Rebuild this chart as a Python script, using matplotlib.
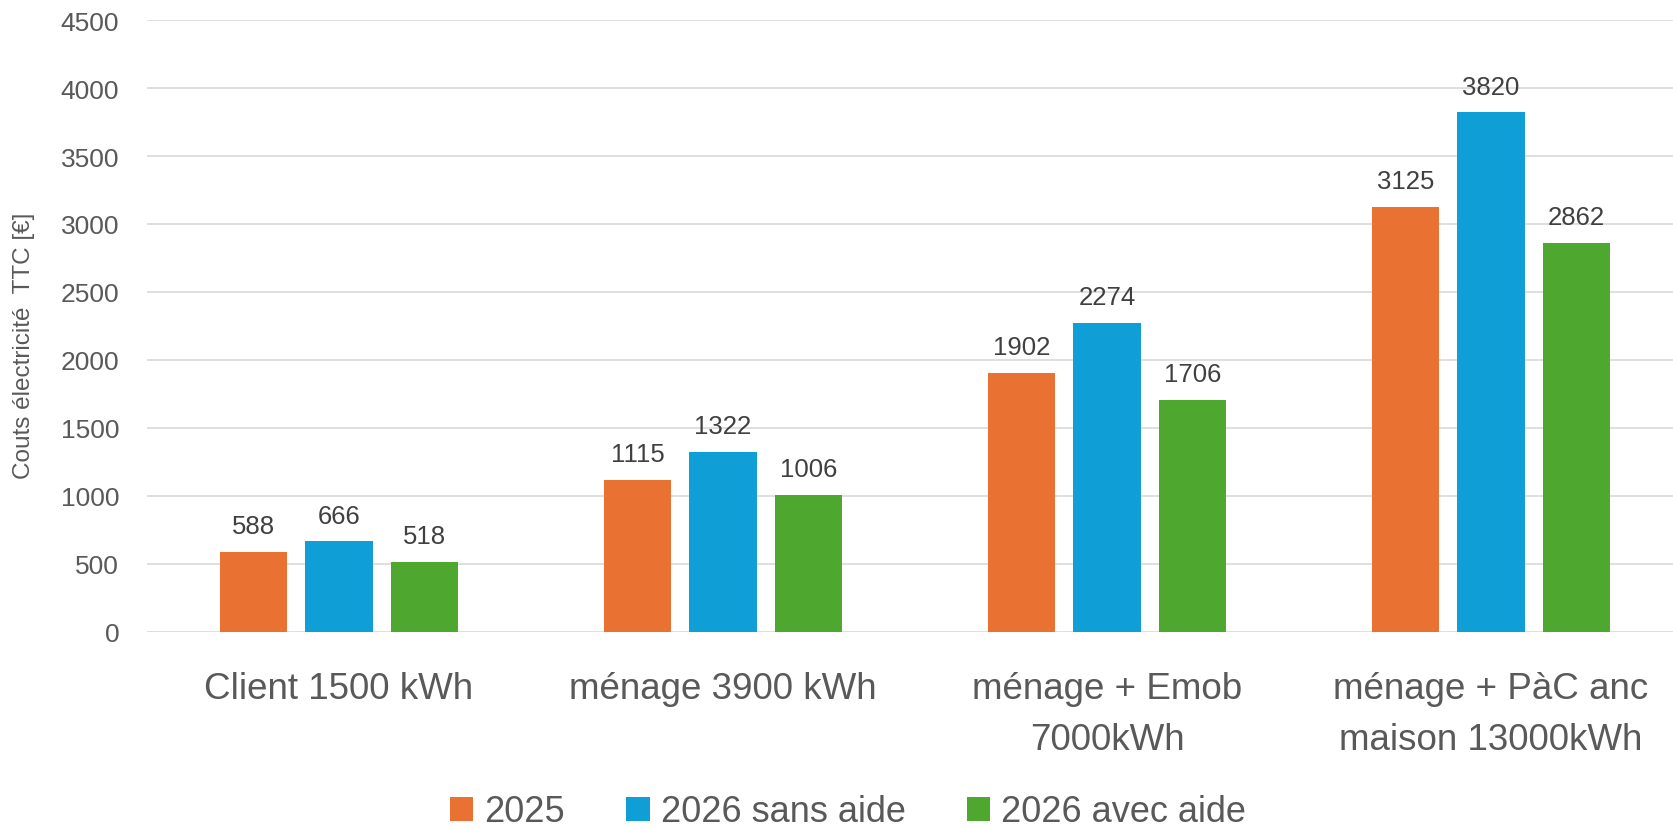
import numpy as np
import matplotlib
matplotlib.use('Agg')
import matplotlib.pyplot as plt

plt.rcParams['font.family'] = ['Liberation Sans', 'DejaVu Sans']

categories = ['Client 1500 kWh', 'ménage 3900 kWh', 'ménage + Emob\n7000kWh',
              'ménage + PàC anc\nmaison 13000kWh']
series_names = ['2025', '2026 sans aide', '2026 avec aide']
v2025 = [588, 1115, 1902, 3125]
v2026_sans = [666, 1322, 2274, 3820]
v2026_avec = [518, 1006, 1706, 2862]
colors = ['#E97132', '#0F9ED5', '#4EA72E']

fig = plt.figure(figsize=(16.73, 8.29), dpi=100)
ax = fig.add_axes([147 / 1673, 196 / 829, 1536 / 1673, 612 / 829])

x = np.arange(len(categories))
width = 0.175
step = 0.222
for i, (vals, name) in enumerate(zip([v2025, v2026_sans, v2026_avec], series_names)):
    bars = ax.bar(x + (i - 1) * step, vals, width, color=colors[i], label=name, zorder=3)
    for b, v in zip(bars, vals):
        ax.annotate(str(v), (b.get_x() + b.get_width() / 2, v),
                    xytext=(0, 10), textcoords='offset points',
                    ha='center', va='bottom', fontsize=18.5, color='#404040')

ax.set_xlim(-0.5, len(categories) - 0.5)
ax.set_ylim(0, 4500)
ax.set_yticks(np.arange(0, 4501, 500))
ax.yaxis.grid(True, color='#d9d9d9', linewidth=1.2, zorder=0)
for s in ax.spines.values():
    s.set_visible(False)
ax.tick_params(axis='y', length=0, pad=20, labelsize=19, labelcolor='#595959')
ax.tick_params(axis='x', length=0, pad=28, labelsize=26.5, labelcolor='#595959')
ax.set_xticks(x)
ax.set_xticklabels(categories, linespacing=1.6)
ax.set_ylabel('Couts électricité  TTC [€]', fontsize=17.5, color='#595959')
ax.yaxis.set_label_coords(-0.073, 0.47)

fig.legend(loc='center', bbox_to_anchor=(848 / 1673, 1 - 813 / 829), ncol=3,
           frameon=False, fontsize=26, labelcolor='#595959',
           handlelength=0.65, handleheight=0.65, handletextpad=0.3, columnspacing=1.7)

fig.savefig('out.png', dpi=100)
